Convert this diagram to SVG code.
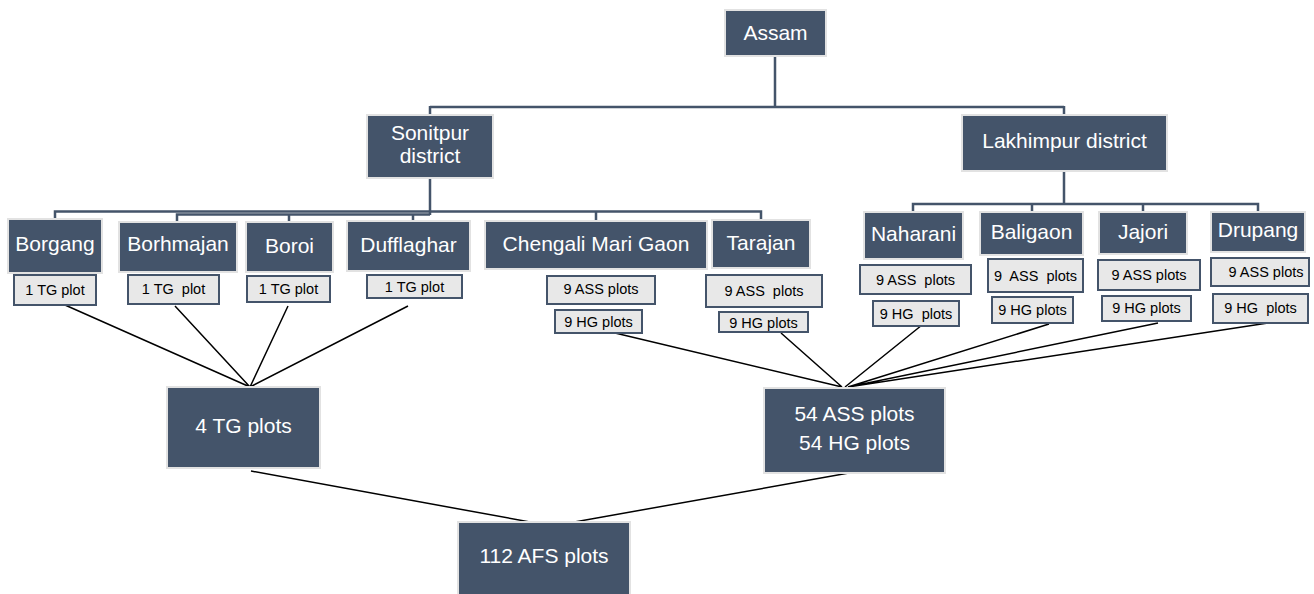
<svg xmlns="http://www.w3.org/2000/svg" width="1314" height="594" viewBox="0 0 1314 594">
<style>
.dk{fill:#44546A;stroke:#E2E2E2;stroke-width:2}
.lt{fill:#E8E8E8;stroke:#44546A;stroke-width:2}
.tw{fill:#FFFFFF;font-family:"Liberation Sans",Arial,sans-serif;font-size:21px;text-anchor:middle}
.tb{fill:#000000;font-family:"Liberation Sans",Arial,sans-serif;font-size:14.5px;text-anchor:middle;white-space:pre}
.tree{fill:none;stroke:#44546A;stroke-width:2.5}
.ln{fill:none;stroke:#000000;stroke-width:1.5}
</style>
<rect width="1314" height="594" fill="#FFFFFF"/>
<g id="connectors">
<path class="tree" d="M775,56 V107 M430,107 H1064 M430,106 V115 M1064,106 V115"/>
<path class="tree" d="M430,178 V215 M55,219 V211.5 H761 V220 M177,222 V214.5 H430 M289,214 V222 M413,214 V221 M596,212 V221"/>
<path class="tree" d="M1064,171 V204 M913,212 V204 H1258 V212 M1032,204 V212 M1143,204 V212"/>
<path class="ln" d="M65,305 L250,387 M175,306 L250,387 M288,306 L250,387 M408,306 L250,387"/>
<path class="ln" d="M615,333 L842,387 M781,333 L842,387 M922,325 L845,387 M1049,324 L848,387 M1158,323 L848,387 M1268,323 L848,387"/>
<path class="ln" d="M251,471 L552,526 L860,471"/>
</g>
<g id="assam"><rect class="dk" x="725" y="10" width="101" height="46"/><text class="tw" x="775.5" y="40">Assam</text></g>
<g id="sonitpur"><rect class="dk" x="367" y="115" width="126" height="63"/><text class="tw" x="430" y="140">Sonitpur</text><text class="tw" x="430" y="163">district</text></g>
<g id="lakhimpur"><rect class="dk" x="962" y="115" width="205" height="56"/><text class="tw" x="1064.5" y="148">Lakhimpur district</text></g>
<g id="borgang"><rect class="dk" x="8" y="219" width="94" height="54"/><text class="tw" x="55" y="251">Borgang</text>
<rect class="lt" x="14" y="275" width="82" height="30"/><text class="tb" x="55" y="295">1 TG plot</text></g>
<g id="borhmajan"><rect class="dk" x="119" y="222" width="118" height="50"/><text class="tw" x="178" y="251">Borhmajan</text>
<rect class="lt" x="128" y="275" width="91" height="29"/><text class="tb" x="173.5" y="294">1 TG  plot</text></g>
<g id="boroi"><rect class="dk" x="246" y="222" width="87" height="50"/><text class="tw" x="289.5" y="253">Boroi</text>
<rect class="lt" x="247" y="276" width="83" height="26"/><text class="tb" x="288.5" y="294">1 TG plot</text></g>
<g id="dufflaghar"><rect class="dk" x="347" y="221" width="123" height="50"/><text class="tw" x="408.5" y="252">Dufflaghar</text>
<rect class="lt" x="367" y="275" width="95" height="23"/><text class="tb" x="414.5" y="292">1 TG plot</text></g>
<g id="chengali"><rect class="dk" x="485" y="221" width="222" height="48"/><text class="tw" x="596" y="251">Chengali Mari Gaon</text>
<rect class="lt" x="547" y="276" width="108" height="28"/><text class="tb" x="601" y="294">9 ASS plots</text>
<rect class="lt" x="555" y="310" width="87" height="23"/><text class="tb" x="598.5" y="327">9 HG plots</text></g>
<g id="tarajan"><rect class="dk" x="712" y="220" width="98" height="48"/><text class="tw" x="761" y="250">Tarajan</text>
<rect class="lt" x="706" y="275" width="116" height="32"/><text class="tb" x="764" y="296">9 ASS  plots</text>
<rect class="lt" x="719" y="312" width="89" height="20"/><text class="tb" x="763.5" y="328">9 HG plots</text></g>
<g id="naharani"><rect class="dk" x="864" y="212" width="99" height="47"/><text class="tw" x="913.5" y="241">Naharani</text>
<rect class="lt" x="860" y="265" width="111" height="29"/><text class="tb" x="915.5" y="285">9 ASS  plots</text>
<rect class="lt" x="873" y="301" width="86" height="25"/><text class="tb" x="916" y="319">9 HG  plots</text></g>
<g id="baligaon"><rect class="dk" x="980" y="212" width="103" height="43"/><text class="tw" x="1031.5" y="239">Baligaon</text>
<rect class="lt" x="988" y="259" width="95" height="33"/><text class="tb" x="1035.5" y="281">9  ASS  plots</text>
<rect class="lt" x="992" y="297" width="81" height="26"/><text class="tb" x="1032.5" y="315">9 HG plots</text></g>
<g id="jajori"><rect class="dk" x="1099" y="212" width="88" height="42"/><text class="tw" x="1143" y="239">Jajori</text>
<rect class="lt" x="1098" y="260" width="102" height="30"/><text class="tb" x="1149" y="280">9 ASS plots</text>
<rect class="lt" x="1102" y="296" width="89" height="25"/><text class="tb" x="1146.5" y="313">9 HG plots</text></g>
<g id="drupang"><rect class="dk" x="1211" y="212" width="94" height="40"/><text class="tw" x="1258" y="237">Drupang</text>
<rect class="lt" x="1211" y="258" width="98" height="28"/><text class="tb" x="1266" y="277">9 ASS plots</text>
<rect class="lt" x="1213" y="294" width="95" height="29"/><text class="tb" x="1260.5" y="313">9 HG  plots</text></g>
<g id="tg-total"><rect class="dk" x="167" y="387" width="153" height="81"/><text class="tw" x="243.5" y="433">4 TG plots</text></g>
<g id="ass-hg-total"><rect class="dk" x="764" y="388" width="181" height="85"/><text class="tw" x="854.5" y="421">54 ASS plots</text><text class="tw" x="854.5" y="450">54 HG plots</text></g>
<g id="afs-total"><rect class="dk" x="458" y="522" width="172" height="80"/><text class="tw" x="544" y="563">112 AFS plots</text></g>
</svg>
